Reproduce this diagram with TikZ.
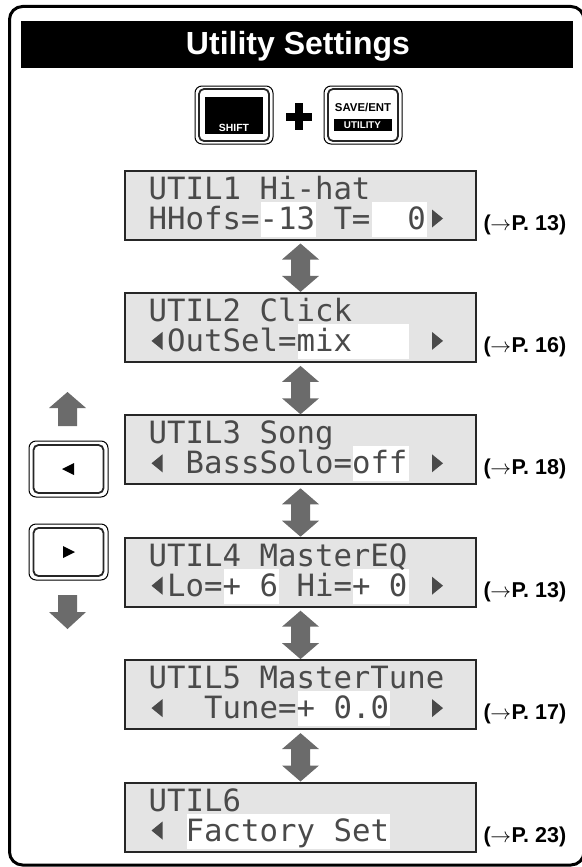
\documentclass[tikz,border=0pt]{standalone}
\usepackage{fontspec}
\setmainfont{Liberation Sans}
\newfontfamily\lcdfont{DejaVu Sans Mono}
\usetikzlibrary{calc}
\definecolor{arrgray}{HTML}{6B6B6B}
\definecolor{lcdfill}{HTML}{E4E4E4}
\definecolor{lcdink}{HTML}{4A4A4A}
\tikzset{
  lcd/.style={draw=black!85, line width=2pt, fill=lcdfill, minimum width=351pt, minimum height=69pt, inner sep=0pt, anchor=north west},
  lcdtext/.style={font=\lcdfont\fontsize{30.7}{30.7}\selectfont, text=lcdink, inner sep=0pt, anchor=base west},
  pref/.style={font=\bfseries\fontsize{21.5}{21.5}\selectfont, inner sep=0pt, anchor=base west},
  btnout/.style={draw=black, line width=1pt, rounded corners=7pt, fill=white, inner sep=0pt},
  btnin/.style={draw=black!85, line width=1.8pt, rounded corners=5pt, inner sep=0pt},
  blkbox/.style={fill=black, inner sep=0pt},
  blockarrow/.style={fill=arrgray},
}
% highlight cells: node, first cell, number of cells
\newcommand\hlcells[3]{\fill[white] ($(#1.north west)+({25.5+18.5*#2},32)$) rectangle ++({18.5*#3},35);}
% LCD row text: node, baseline offset, first cell, text
\newcommand\lcdrow[4]{\node[lcdtext] at ($(#1.north west)+({24.5+18.5*#3},#2)$) {#4};}
\newcommand\ltri[1]{\fill[lcdink] ($(#1.north west)+(38.5,40)$) -- ++(0,18) -- ++(-11,-9) -- cycle;}
\newcommand\rtri[1]{\fill[lcdink] ($(#1.north west)+(308,40)$) -- ++(0,18) -- ++(11,-9) -- cycle;}
\newcommand\pgref[2]{\node[pref] (#1p) at ($(#1.north east)+(6.5,60.5)$) {(\kern-0.5pt$\rightarrow$\kern0.5pt P. #2)};}
\newcommand\vdarr[2]{%
  \fill[blockarrow] let \p1=($(#1)+(0,3)$), \p2=(#2) in
  (\x1,\y1) -- (\x1+18.5pt,\y1-16pt) -- (\x1+9.5pt,\y1-16pt) -- (\x1+9.5pt,\y2+16pt) --
  (\x1+18.5pt,\y2+16pt) -- (\x1,\y2) -- (\x1-18.5pt,\y2+16pt) -- (\x1-9.5pt,\y2+16pt) --
  (\x1-9.5pt,\y1-16pt) -- (\x1-18.5pt,\y1-16pt) -- cycle;}
\begin{document}
\begin{tikzpicture}[x=1pt,y=-1pt]
\useasboundingbox (0,0) rectangle (581,867);
% outer frame
\draw[line width=3pt, rounded corners=13pt] (9.5,6.5) rectangle (584,865);
% title
\node[blkbox, minimum width=552pt, minimum height=47pt] (title) at (297,44.5) {};
\node[inner sep=0pt, anchor=base, text=white, font=\bfseries\fontsize{32}{32}\selectfont] (titletxt) at (298,55) {Utility Settings};
% SHIFT button
\node[btnout, minimum width=78pt, minimum height=58pt] (bshift) at (234,115) {};
\node[btnin, minimum width=70pt, minimum height=52pt] (bshiftin) at (bshift) {};
\node[blkbox, minimum width=58pt, minimum height=37pt] (bshiftblk) at (234,115.5) {};
\node[inner sep=0pt, text=white, font=\bfseries\fontsize{10.4}{10.4}\selectfont] (shifttxt) at (234,127.5) {SHIFT};
% plus
\fill (286,112.5) rectangle (312,120.5);
\fill (295,103) rectangle (303,130);
% SAVE/ENT button
\node[btnout, minimum width=78pt, minimum height=58pt] (bsave) at (363,115) {};
\node[btnin, minimum width=70pt, minimum height=52pt] (bsavein) at (bsave) {};
\node[inner sep=0pt, font=\bfseries\fontsize{11.4}{11.4}\selectfont] (savetxt) at (363,107) {SAVE/ENT};
\node[blkbox, minimum width=58pt, minimum height=12pt] (utilbar) at (362.5,124.5) {};
\node[inner sep=0pt, text=white, font=\bfseries\fontsize{9.8}{9.8}\selectfont] (utiltxt) at (362.5,124.8) {UTILITY};
% left side buttons and arrows
\fill[blockarrow] (67.5,392) -- (86,408) -- (77,408) -- (77,426) -- (58,426) -- (58,408) -- (49,408) -- cycle;
\node[btnout, minimum width=79pt, minimum height=56pt] (bleft) at (68.5,469) {};
\node[btnin, minimum width=70pt, minimum height=48pt] (bleftin) at (bleft) {};
\fill (62,469) -- (74,463) -- (74,475) -- cycle;
\node[btnout, minimum width=79pt, minimum height=56pt] (bright) at (68.5,552) {};
\node[btnin, minimum width=70pt, minimum height=48pt] (brightin) at (bright) {};
\fill (75,552) -- (63,546) -- (63,558) -- cycle;
\fill[blockarrow] (58,595) -- (77,595) -- (77,612) -- (86,612) -- (67.5,629) -- (49,612) -- (58,612) -- cycle;
% LCD 1
\node[lcd] (u1) at (124,169.5) {};
\hlcells{u1}{6}{3}\hlcells{u1}{12}{3}
\lcdrow{u1}{29.5}{0}{UTIL1~Hi-hat}
\lcdrow{u1}{59.5}{0}{HHofs=-13~T=~~0}
\rtri{u1}
\pgref{u1}{13}
% LCD 2
\node[lcd] (u2) at (124,291.9) {};
\hlcells{u2}{8}{6}
\lcdrow{u2}{29.5}{0}{UTIL2~Click}
\lcdrow{u2}{59.5}{1}{OutSel=mix}
\ltri{u2}\rtri{u2}
\pgref{u2}{16}
% LCD 3
\node[lcd] (u3) at (124,414.3) {};
\hlcells{u3}{11}{3}
\lcdrow{u3}{29.5}{0}{UTIL3~Song}
\lcdrow{u3}{59.5}{2}{BassSolo=off}
\ltri{u3}\rtri{u3}
\pgref{u3}{18}
% LCD 4
\node[lcd] (u4) at (124,536.7) {};
\hlcells{u4}{4}{3}\hlcells{u4}{11}{3}
\lcdrow{u4}{29.5}{0}{UTIL4~MasterEQ}
\lcdrow{u4}{59.5}{1}{Lo=+~6~Hi=+~0}
\ltri{u4}\rtri{u4}
\pgref{u4}{13}
% LCD 5
\node[lcd] (u5) at (124,659.1) {};
\hlcells{u5}{8}{5}
\lcdrow{u5}{29.5}{0}{UTIL5~MasterTune}
\lcdrow{u5}{59.5}{3}{Tune=+~0.0}
\ltri{u5}\rtri{u5}
\pgref{u5}{17}
% LCD 6
\node[lcd] (u6) at (124,781.5) {};
\hlcells{u6}{2}{11}
\lcdrow{u6}{29.5}{0}{UTIL6}
\lcdrow{u6}{59.5}{2}{Factory~Set}
\ltri{u6}
\pgref{u6}{23}
% connectors
\vdarr{u1.south}{u2.north}
\vdarr{u2.south}{u3.north}
\vdarr{u3.south}{u4.north}
\vdarr{u4.south}{u5.north}
\vdarr{u5.south}{u6.north}
\end{tikzpicture}
\end{document}
